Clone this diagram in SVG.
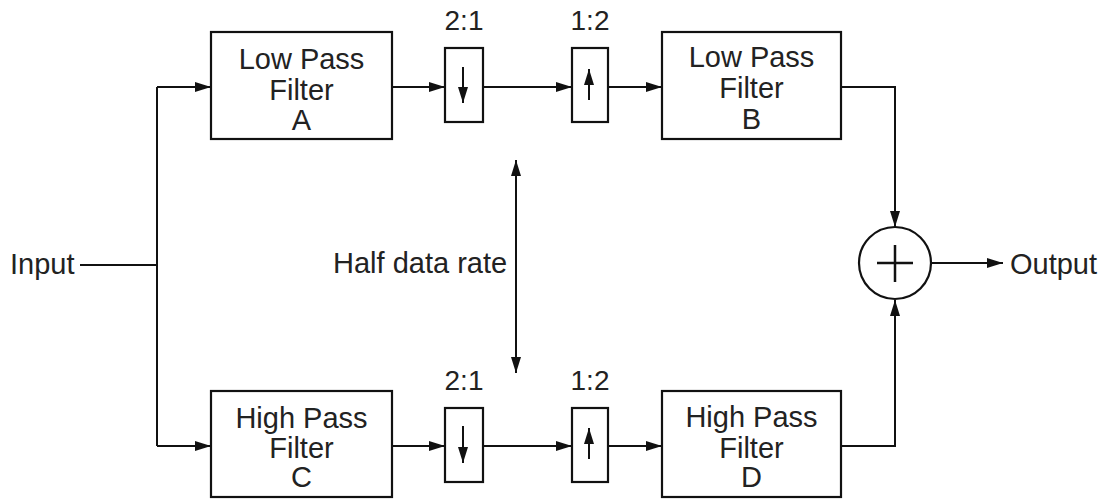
<svg xmlns="http://www.w3.org/2000/svg" width="1108" height="499" viewBox="0 0 1108 499">
<style>
.box{fill:#fff;stroke:#111;stroke-width:2.2}
.ln{fill:none;stroke:#111;stroke-width:2}
.t{font-family:"Liberation Sans",Arial,sans-serif;font-size:29px;fill:#222}
.c{text-anchor:middle}
.r{font-size:28px}
</style>
<defs>
<marker id="ah" viewBox="0 0 16 10" refX="16" refY="5" markerWidth="16" markerHeight="10" markerUnits="userSpaceOnUse" orient="auto-start-reverse">
<path d="M0,0 L16,5 L0,10 z" fill="#111"/>
</marker>
<marker id="sh" viewBox="0 0 16 10" refX="16" refY="5" markerWidth="16" markerHeight="10" markerUnits="userSpaceOnUse" orient="auto">
<path d="M0,0 L16,5 L0,10 z" fill="#111"/>
</marker>
</defs>
<g id="connectors">
<path class="ln" d="M80,265 H157"/>
<path class="ln" d="M157,87 V446"/>
<path class="ln" d="M157,87 H211" marker-end="url(#ah)"/>
<path class="ln" d="M157,446 H211" marker-end="url(#ah)"/>
<path class="ln" d="M392,87 H445" marker-end="url(#ah)"/>
<path class="ln" d="M483,87 H572" marker-end="url(#ah)"/>
<path class="ln" d="M608,87 H662" marker-end="url(#ah)"/>
<path class="ln" d="M392,446 H445" marker-end="url(#ah)"/>
<path class="ln" d="M483,446 H572" marker-end="url(#ah)"/>
<path class="ln" d="M608,446 H662" marker-end="url(#ah)"/>
<path class="ln" d="M841,87 H895 V227" marker-end="url(#ah)"/>
<path class="ln" d="M841,446 H895 V300" marker-end="url(#ah)"/>
<path class="ln" d="M931,263 H1003" marker-end="url(#ah)"/>
<path class="ln" d="M516,160 V373" marker-start="url(#ah)" marker-end="url(#ah)"/>
</g>
<g id="input"><text class="t" x="10" y="274">Input</text></g>
<g id="output"><text class="t" x="1010" y="274">Output</text></g>
<g id="half-rate"><text class="t" x="333" y="273">Half data rate</text></g>
<g id="lpf-a">
<rect class="box" x="211" y="32" width="181" height="107"/>
<text class="t c" x="301.5" y="69">Low Pass</text>
<text class="t c" x="301.5" y="100">Filter</text>
<text class="t c" x="301.5" y="130">A</text>
</g>
<g id="hpf-c">
<rect class="box" x="211" y="391" width="181" height="106"/>
<text class="t c" x="301.5" y="428">High Pass</text>
<text class="t c" x="301.5" y="458">Filter</text>
<text class="t c" x="301.5" y="487">C</text>
</g>
<g id="lpf-b">
<rect class="box" x="662" y="32" width="179" height="107"/>
<text class="t c" x="751.5" y="67">Low Pass</text>
<text class="t c" x="751.5" y="98">Filter</text>
<text class="t c" x="751.5" y="129">B</text>
</g>
<g id="hpf-d">
<rect class="box" x="662" y="391" width="179" height="106"/>
<text class="t c" x="751.5" y="427">High Pass</text>
<text class="t c" x="751.5" y="458">Filter</text>
<text class="t c" x="751.5" y="487">D</text>
</g>
<g id="down-top">
<text class="t c r" x="464" y="30">2:1</text>
<rect class="box" x="445" y="48" width="38" height="74"/>
<path class="ln" d="M463,67 V103" marker-end="url(#sh)"/>
</g>
<g id="up-top">
<text class="t c r" x="590" y="30">1:2</text>
<rect class="box" x="572" y="48" width="36" height="74"/>
<path class="ln" d="M589,100 V69" marker-end="url(#sh)"/>
</g>
<g id="down-bottom">
<text class="t c r" x="464" y="390">2:1</text>
<rect class="box" x="445" y="408" width="38" height="74"/>
<path class="ln" d="M463,426 V463" marker-end="url(#sh)"/>
</g>
<g id="up-bottom">
<text class="t c r" x="590" y="390">1:2</text>
<rect class="box" x="572" y="408" width="36" height="74"/>
<path class="ln" d="M589,459 V428" marker-end="url(#sh)"/>
</g>
<g id="sum">
<circle class="box" cx="895" cy="263" r="36"/>
<path class="ln" d="M877,263 H913 M895,245 V282" style="stroke-width:2.5"/>
</g>
</svg>
